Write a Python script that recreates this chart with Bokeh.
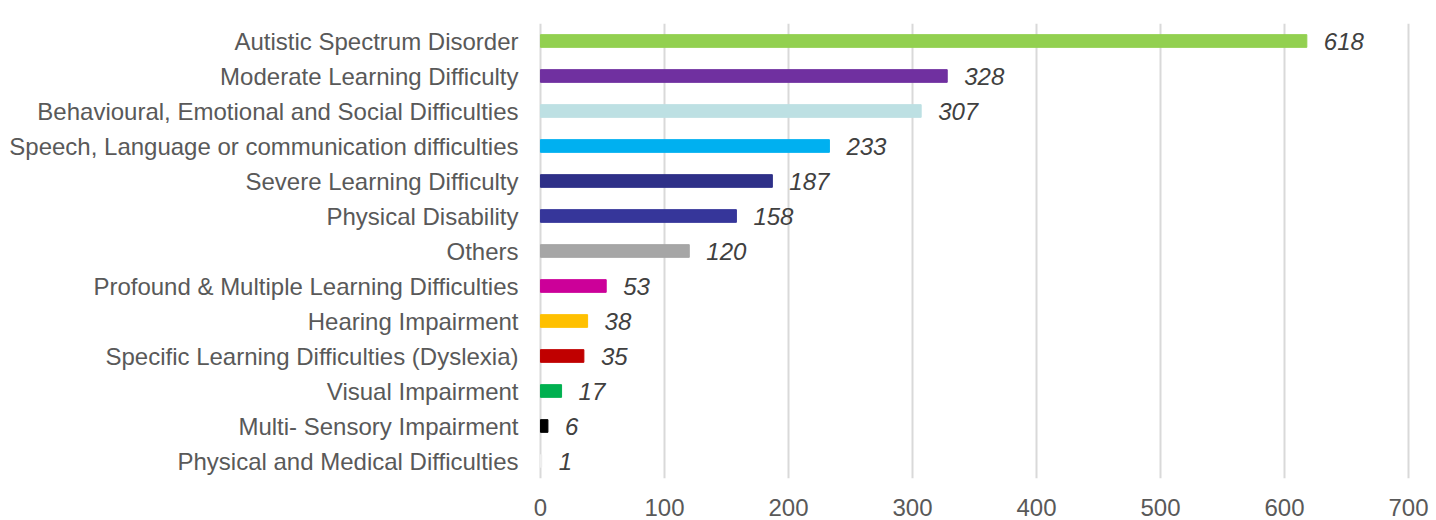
from bokeh.plotting import figure
from bokeh.models import FactorRange, Range1d, ColumnDataSource, FixedTicker
from bokeh.core.properties import value
from bokeh.embed import file_html
from bokeh.resources import INLINE

categories = [
    "Autistic Spectrum Disorder",
    "Moderate Learning Difficulty",
    "Behavioural, Emotional and Social Difficulties",
    "Speech, Language or communication difficulties",
    "Severe Learning Difficulty",
    "Physical Disability",
    "Others",
    "Profound & Multiple Learning Difficulties",
    "Hearing Impairment",
    "Specific Learning Difficulties (Dyslexia)",
    "Visual Impairment",
    "Multi- Sensory Impairment",
    "Physical and Medical Difficulties",
]
counts = [618, 328, 307, 233, 187, 158, 120, 53, 38, 35, 17, 6, 1]
colors = ["#92d050", "#7030a0", "#bde0e3", "#00b0f0", "#2e3088", "#36369a",
          "#a6a6a6", "#cc0099", "#ffc000", "#c00000", "#00b050", "#000000", "#eeeeee"]
x_ticks = [0, 100, 200, 300, 400, 500, 600, 700]

FONT = "Liberation Sans"

source = ColumnDataSource(dict(cat=categories, val=counts, color=colors,
                               label=[str(v) for v in counts]))

p = figure(width=1436, height=520, output_backend="svg", toolbar_location=None,
           y_range=FactorRange(factors=list(reversed(categories)), range_padding=0),
           x_range=Range1d(-1.6, 701.6),
           min_border_left=538, min_border_right=26, min_border_top=23, min_border_bottom=42)
p.outline_line_color = None
p.background_fill_color = "white"
p.border_fill_color = "white"

p.hbar(y="cat", right="val", left=0, height=0.363, color="color", source=source)
p.text(x="val", y="cat", text="label", source=source, x_offset=17,
       text_align="left", text_baseline="middle", text_color="#404040",
       text_font=value(FONT), text_font_style="italic", text_font_size="24px")

p.xaxis.ticker = FixedTicker(ticks=x_ticks)
p.xaxis.axis_line_color = None
p.xaxis.major_tick_line_color = None
p.xaxis.minor_tick_line_color = None
p.xaxis.major_label_text_font = FONT
p.xaxis.major_label_text_font_size = "24px"
p.xaxis.major_label_text_color = "#595959"
p.xaxis.major_label_standoff = 14

p.yaxis.axis_line_color = None
p.yaxis.major_tick_line_color = None
p.yaxis.minor_tick_line_color = None
p.yaxis.major_label_text_font = FONT
p.yaxis.major_label_text_font_size = "24px"
p.yaxis.major_label_text_color = "#595959"
p.yaxis.major_label_standoff = 14

p.xgrid.grid_line_color = "#d9d9d9"
p.xgrid.grid_line_width = 2
p.ygrid.grid_line_color = None

open("out.html", "w").write(file_html(p, INLINE))
